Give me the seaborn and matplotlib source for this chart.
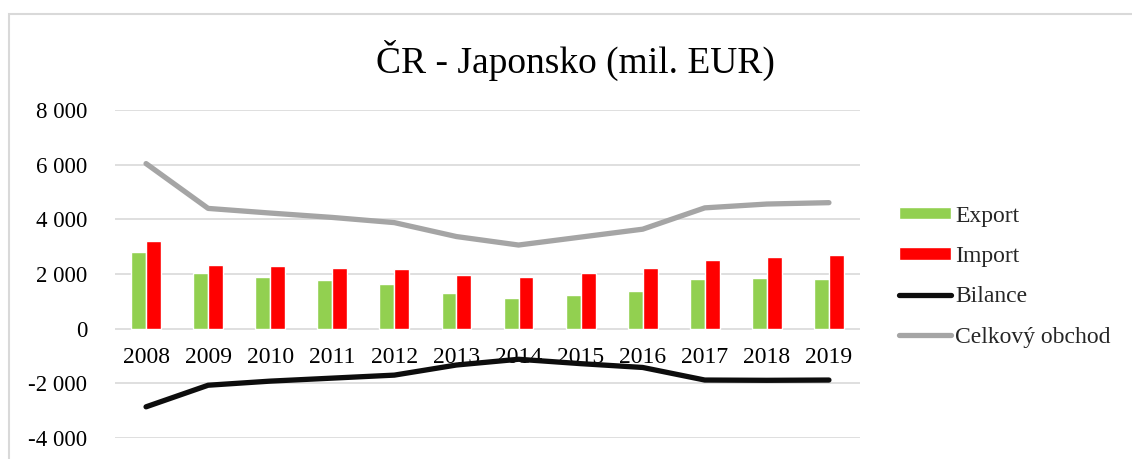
import numpy as np
import pandas as pd
import seaborn as sns
import matplotlib.pyplot as plt
from matplotlib.patches import Rectangle, Patch
from matplotlib.lines import Line2D

# data (mil. EUR)
years = ['2008', '2009', '2010', '2011', '2012', '2013', '2014', '2015', '2016', '2017', '2018', '2019']
export = [2810, 2030, 1895, 1785, 1640, 1320, 1125, 1245, 1380, 1830, 1860, 1830]
imports = [3190, 2335, 2285, 2210, 2200, 1980, 1895, 2030, 2225, 2530, 2625, 2710]
bilance = [-2860, -2070, -1920, -1810, -1700, -1330, -1120, -1280, -1420, -1880, -1890, -1880]
celkem = [6040, 4400, 4230, 4070, 3880, 3370, 3060, 3350, 3640, 4420, 4560, 4610]
yticks = [-4000, -2000, 0, 2000, 4000, 6000, 8000]

green = '#92D050'
red = '#FF0000'
black = '#0D0D0D'
gray = '#A5A5A5'

sns.set_theme(style='white')
plt.rcParams['font.family'] = ['Liberation Serif', 'DejaVu Serif']

df = pd.DataFrame({
    'rok': years * 2,
    'hodnota': export + imports,
    'typ': ['Export'] * len(years) + ['Import'] * len(years),
})

fig = plt.figure(figsize=(11.32, 4.59), dpi=100)
ax = fig.add_axes([0.1016, 0.0458, 0.6581, 0.7145])

sns.barplot(data=df, x='rok', y='hodnota', hue='typ', order=years,
            palette={'Export': green, 'Import': red}, width=0.48,
            saturation=1, legend=False, ax=ax, zorder=2)

xpos = np.arange(len(years))
sns.lineplot(x=xpos, y=bilance, color=black, linewidth=3.8, ax=ax,
             solid_capstyle='round', zorder=3)
sns.lineplot(x=xpos, y=celkem, color=gray, linewidth=3.8, ax=ax,
             solid_capstyle='round', zorder=3)

ax.set_ylim(-4000, 8000)
ax.set_xlim(-0.5, len(years) - 0.5)
ax.set_yticks(yticks)
ax.set_yticklabels([f'{v:,}'.replace(',', ' ') for v in yticks])
ax.set_xticks(xpos)
ax.set_xticklabels(years)
ax.set_xlabel('')
ax.set_ylabel('')
ax.yaxis.grid(True, color='#D9D9D9', linewidth=1.2, zorder=0)
ax.set_axisbelow(True)
for s in ['top', 'right', 'left']:
    ax.spines[s].set_visible(False)
ax.spines['bottom'].set_position(('data', 0))
ax.spines['bottom'].set_visible(False)
ax.tick_params(axis='x', length=0, pad=13, labelsize=17, colors='black')
ax.tick_params(axis='y', length=0, pad=20, labelsize=16.5, colors='black')

fig.text(0.508, 0.869, 'ČR - Japonsko (mil. EUR)', ha='center', va='center',
         fontsize=27, color='black')

handles = [
    Patch(facecolor=green, label='Export'),
    Patch(facecolor=red, label='Import'),
    Line2D([], [], color=black, linewidth=3.8, solid_capstyle='round', label='Bilance'),
    Line2D([], [], color=gray, linewidth=3.8, solid_capstyle='round', label='Celkový obchod'),
]
fig.legend(handles=handles, loc='center left', bbox_to_anchor=(0.794, 0.3975),
           frameon=False, fontsize=17, handlelength=2.2, handleheight=0.45,
           handletextpad=0.2, labelspacing=0.82, borderpad=0, borderaxespad=0)

# light outer frame of the chart
fig.patches.append(Rectangle((8.5 / 1132, -0.1), 1.2, 1.1 - 14 / 459,
                             transform=fig.transFigure, fill=False,
                             edgecolor='#D9D9D9', linewidth=1.5))

fig.savefig('out.png', dpi=100)
